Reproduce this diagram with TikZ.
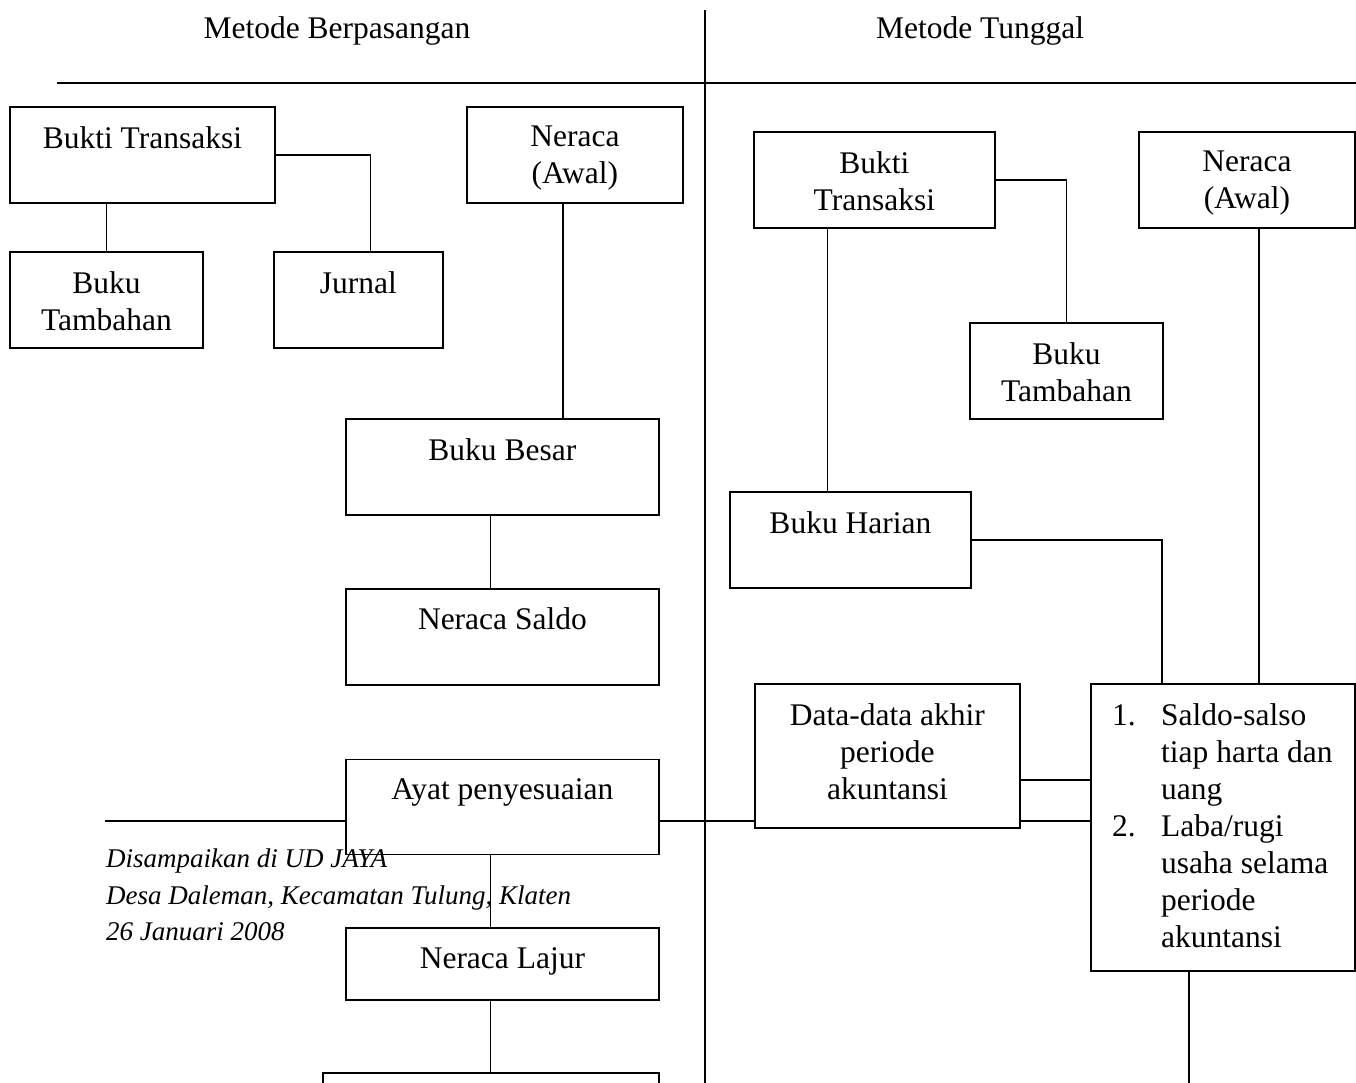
\documentclass[tikz,border=0pt]{standalone}
\usepackage{fontspec}
\setmainfont{Liberation Serif}
\usepackage{tikz}
\usetikzlibrary{positioning,calc}
\newcommand{\boxfont}{\fontsize{31.5}{37}\selectfont}
\newcommand{\notefont}{\fontsize{27}{36.5}\selectfont\itshape}
\tikzset{kotak/.style={draw,rectangle,line width=1.8pt,inner sep=0pt,anchor=north west}}
\tikzset{txt/.style={inner sep=0pt,align=center,anchor=north,font=\boxfont}}
\tikzstyle{garis}=[line width=1.8pt]
\tikzstyle{catatan}=[inner sep=0pt,align=left,anchor=north west,font=\notefont]

\begin{document}
\begin{tikzpicture}[x=1pt,y=-1pt,node distance=72pt]
    \clip (0,0) rectangle (1356,1083);
    \node [txt] (hdL) at (337,16) {Metode Berpasangan};
    \node [txt] (hdR) at (980,16) {Metode Tunggal};
    \coordinate (atas) at (705,10);
    \coordinate (bawah) at (705,1090);
    \coordinate (kiri) at (57,83);
    \coordinate (kanan) at (1360,83);
    \draw[garis] (atas) -- (bawah);
    \draw[garis] (kiri) -- (kanan);

    \node [kotak,minimum width=265pt,minimum height=96pt] (bukL) at (9,106) {};
    \node [kotak,minimum width=193pt,minimum height=96pt] (bukuL) at (9,251) {};
    \node [kotak,minimum width=169pt,minimum height=96pt] (jur) at (273,251) {};
    \node [kotak,minimum width=216pt,minimum height=96pt] (nerL) at (466,106) {};
    \node [kotak,minimum width=313pt,minimum height=96pt] (bbL) at (345,418) {};
    \node [kotak,minimum width=313pt,minimum height=96pt,below=of bbL] (nsL) {};
    \node [kotak,minimum width=313pt,minimum height=95pt,below=73pt of nsL] (ayL) {};
    \node [kotak,minimum width=313pt,minimum height=72pt,below=of ayL] (nlL) {};
    \node [kotak,minimum width=336pt,minimum height=100pt,below=71pt of nlL.south east,anchor=north east] (akhL) {};

    \node [txt,below=20pt of bukL.north] (bukLt) {Bukti Transaksi};
    \node [txt,below=20pt of bukuL.north] (bukuLt) {Buku\\Tambahan};
    \node [txt,below=20pt of jur.north] (jurt) {Jurnal};
    \node [txt,below=20pt of nerL.north] (nerLt) {Neraca\\(Awal)};
    \node [txt,below=20pt of bbL.north] (bbLt) {Buku Besar};
    \node [txt,below=20pt of nsL.north] (nsLt) {Neraca Saldo};
    \node [txt,below=20pt of ayL.north] (ayLt) {Ayat penyesuaian};
    \node [txt,below=20pt of nlL.north] (nlLt) {Neraca Lajur};

    \draw[garis] (bukuL.north |- bukL.south) -- (bukuL.north);
    \draw[garis] (bukL.east) -| ([xshift=12pt]jur.north);
    \draw[garis] ([xshift=-12pt]nerL.south) -- ([xshift=-12pt]nerL.south |- bbL.north);
    \draw[garis] ([xshift=-12pt]bbL.south) -- ([xshift=-12pt]nsL.north);
    \draw[garis] ([xshift=-12pt]ayL.south) -- ([xshift=-12pt]nlL.north);
    \draw[garis] ([xshift=-12pt]nlL.south) -- ([xshift=-12pt]nlL.south |- akhL.north);

    \node [kotak,minimum width=241pt,minimum height=96pt] (bktR) at (753,131) {};
    \node [kotak,minimum width=216pt,minimum height=96pt] (nerR) at (1138,131) {};
    \node [kotak,minimum width=193pt,minimum height=96pt] (btR) at (969,322) {};
    \node [kotak,minimum width=241pt,minimum height=96pt] (bhR) at (729,491) {};
    \node [kotak,minimum width=265pt,minimum height=144pt] (dat) at (754,683) {};
    \node [kotak,minimum width=264pt,minimum height=287pt] (sal) at (1090,683) {};

    \node [txt,below=20pt of bktR.north] (bktRt) {Bukti\\Transaksi};
    \node [txt,below=20pt of nerR.north] (nerRt) {Neraca\\(Awal)};
    \node [txt,below=20pt of btR.north] (btRt) {Buku\\Tambahan};
    \node [txt,below=20pt of bhR.north] (bhRt) {Buku Harian};
    \node [txt,below=20pt of dat.north] (datt) {Data-data akhir\\periode\\akuntansi};
    \node [txt,align=left,below right=20pt and 22pt of sal.north west] (salt)
        {\makebox[49pt][l]{1.}Saldo-salso\\
         \hspace*{49pt}tiap harta dan\\
         \hspace*{49pt}uang\\
         \makebox[49pt][l]{2.}Laba/rugi\\
         \hspace*{49pt}usaha selama\\
         \hspace*{49pt}periode\\
         \hspace*{49pt}akuntansi};

    \draw[garis] (bktR.east) -| (btR.north);
    \draw[garis] ([xshift=-47pt]bktR.south) -- ([xshift=-47pt]bktR.south |- bhR.north);
    \draw[garis] (bhR.east) -| ([xshift=72pt]sal.north west);
    \draw[garis] ([xshift=12pt]nerR.south) -- ([xshift=12pt]nerR.south |- sal.north);
    \coordinate (d1) at ([yshift=49pt]dat.south east);
    \coordinate (d2) at ([yshift=8pt]dat.south east);
    \coordinate (ay) at ([yshift=8pt]dat.south west);
    \coordinate (lft) at (105,819);
    \draw[garis] (d1) -- (d1 -| sal.west);
    \draw[garis] (d2) -- (d2 -| sal.west);
    \draw[garis] (ayL.east |- ay) -- (ay);
    \draw[garis] (lft |- ay) -- (ayL.west |- ay);
    \draw[garis] ([xshift=-34pt]sal.south) -- ([xshift=-34pt]sal.south |- bawah);

    \node [catatan] (ket) at (106,849)
        {Disampaikan di UD JAYA\\Desa Daleman, Kecamatan Tulung, Klaten\\26 Januari 2008};
\end{tikzpicture}
\end{document}
